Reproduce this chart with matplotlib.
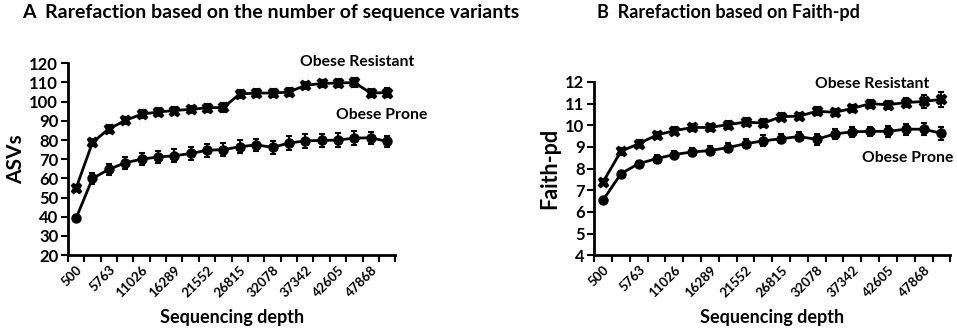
import numpy as np
import matplotlib
matplotlib.use("Agg")
import matplotlib.pyplot as plt

plt.rcParams['font.family'] = ['Lato', 'DejaVu Sans']
plt.rcParams['font.weight'] = 'bold'

# sequencing depth categories (20 steps)
depths = ['500', '3131', '5763', '8394', '11026', '13657', '16289', '18921', '21552', '24184',
          '26815', '29447', '32078', '34710', '37342', '39973', '42605', '45236', '47868', '50500']

# Panel A: ASVs
asv_resistant = [55, 78.8, 85.8, 90.2, 93.5, 94.6, 95.4, 96, 96.8, 97,
                 104, 104.5, 104.5, 105, 108.5, 109.5, 109.7, 110, 104.5, 104.7]
asv_resistant_err = [1.5, 1.8, 2, 2, 2, 2, 2, 2, 2.2, 2.2,
                     2.2, 2.3, 2.3, 2.2, 2, 2, 2.2, 2.2, 2.3, 2.5]
asv_prone = [39.3, 60, 64.7, 68.2, 70, 71.2, 71.8, 73, 74.7, 75,
             76.5, 77.5, 76.2, 78.4, 79.6, 79.8, 80, 81, 81.2, 79.3]
asv_prone_err = [1.5, 3, 3, 3.2, 3, 3.2, 3.3, 3.3, 3.5, 3.5,
                 3.3, 3.3, 3.3, 3.5, 3.5, 3.5, 3.5, 3.8, 3, 2.8]

# Panel B: Faith-pd
pd_resistant = [7.4, 8.8, 9.15, 9.55, 9.75, 9.9, 9.9, 10.03, 10.15, 10.1,
                10.4, 10.42, 10.65, 10.6, 10.78, 11.0, 10.95, 11.05, 11.1, 11.2]
pd_resistant_err = [0.12, 0.15, 0.15, 0.15, 0.15, 0.15, 0.15, 0.18, 0.2, 0.2,
                    0.15, 0.15, 0.18, 0.15, 0.15, 0.18, 0.18, 0.2, 0.28, 0.35]
pd_prone = [6.55, 7.77, 8.23, 8.46, 8.65, 8.77, 8.83, 8.97, 9.15, 9.28,
            9.38, 9.48, 9.35, 9.6, 9.7, 9.72, 9.72, 9.82, 9.82, 9.63]
pd_prone_err = [0.08, 0.1, 0.12, 0.15, 0.15, 0.18, 0.2, 0.22, 0.22, 0.25,
                0.2, 0.2, 0.25, 0.22, 0.22, 0.22, 0.25, 0.25, 0.28, 0.3]

x = np.arange(len(depths))

fig = plt.figure(figsize=(9.57, 3.28), dpi=100)
axA = fig.add_axes([0.071, 0.222, 0.342, 0.585])
axB = fig.add_axes([0.621, 0.222, 0.372, 0.528])


def style_axis(ax, ylim, yticks):
    ax.set_xlim(-0.5, len(depths) - 0.5)
    ax.set_ylim(*ylim)
    ax.set_yticks(yticks)
    ax.set_yticklabels([str(t) for t in yticks], fontsize=12, fontweight='bold')
    ax.set_xticks(x[::2])
    ax.set_xticklabels(depths[::2], rotation=45, ha='right', rotation_mode='anchor',
                       fontsize=9.5, fontweight='bold')
    ax.set_xticks(np.arange(-0.5, len(depths)), minor=True)
    ax.tick_params(axis='x', which='major', length=0, pad=6)
    ax.tick_params(axis='x', which='minor', length=5, width=1.5, direction='out')
    ax.tick_params(axis='y', length=5, width=1.5, direction='out', pad=2)
    for s in ['top', 'right']:
        ax.spines[s].set_visible(False)
    for s in ['left', 'bottom']:
        ax.spines[s].set_linewidth(2)
    ax.set_xlabel('Sequencing depth', fontsize=13, fontweight='bold')
    ax.xaxis.label.set_va('center')
    # place label ~62 px below the axis line
    h = ax.get_position().height * fig.get_figheight() * fig.dpi
    ax.xaxis.set_label_coords(0.5, -62 / h)


def draw(ax, y1, e1, y2, e2):
    ax.errorbar(x, y1, yerr=e1, color='black', lw=2, marker='X', ms=7.5,
                capsize=2.5, elinewidth=1.5, capthick=1.5)
    ax.errorbar(x, y2, yerr=e2, color='black', lw=2, marker='o', ms=6.5,
                capsize=2.5, elinewidth=1.5, capthick=1.5)


draw(axA, asv_resistant, asv_resistant_err, asv_prone, asv_prone_err)
style_axis(axA, (20, 120), list(range(20, 121, 10)))
axA.set_ylabel('ASVs', fontsize=15, fontweight='bold', labelpad=2)
axA.text(0.885, 1.005, 'Obese Resistant', transform=axA.transAxes, ha='center',
         va='center', fontsize=11.3, fontweight='bold')
axA.text(0.96, 0.73, 'Obese Prone', transform=axA.transAxes, ha='center',
         va='center', fontsize=11.3, fontweight='bold')

draw(axB, pd_resistant, pd_resistant_err, pd_prone, pd_prone_err)
style_axis(axB, (4, 12), list(range(4, 13)))
axB.set_ylabel('Faith-pd', fontsize=15.5, fontweight='bold', labelpad=4)
axB.text(0.78, 0.99, 'Obese Resistant', transform=axB.transAxes, ha='center',
         va='center', fontsize=11.3, fontweight='bold')
axB.text(0.88, 0.56, 'Obese Prone', transform=axB.transAxes, ha='center',
         va='center', fontsize=11.3, fontweight='bold')

fig.text(0.023, 0.963, 'A  Rarefaction based on the number of sequence variants',
         fontsize=14, fontweight='bold', va='center')
fig.text(0.624, 0.963, 'B  Rarefaction based on Faith-pd',
         fontsize=13, fontweight='bold', va='center')

fig.savefig('out.png', dpi=100)
